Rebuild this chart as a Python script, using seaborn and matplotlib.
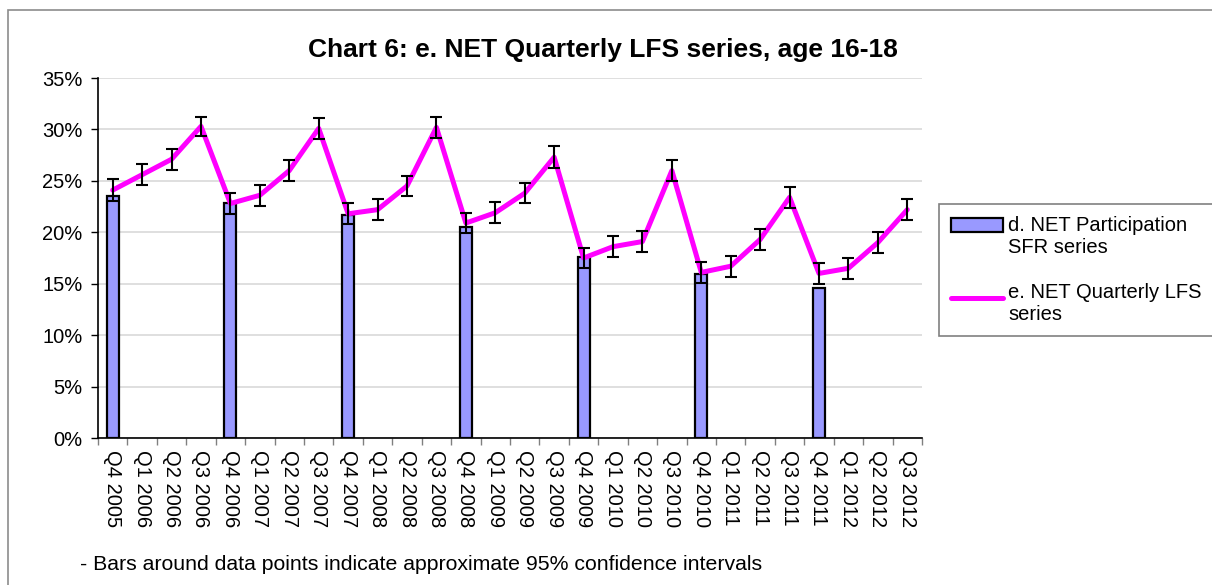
import numpy as np
import pandas as pd
import matplotlib
matplotlib.use("Agg")
import matplotlib.pyplot as plt
import seaborn as sns
from matplotlib.ticker import PercentFormatter
from matplotlib.patches import Rectangle, Patch
from matplotlib.lines import Line2D
from matplotlib.legend_handler import HandlerPatch, HandlerLine2D

# ---------------- data ----------------
quarters = ["Q4 2005", "Q1 2006", "Q2 2006", "Q3 2006", "Q4 2006", "Q1 2007", "Q2 2007",
            "Q3 2007", "Q4 2007", "Q1 2008", "Q2 2008", "Q3 2008", "Q4 2008", "Q1 2009",
            "Q2 2009", "Q3 2009", "Q4 2009", "Q1 2010", "Q2 2010", "Q3 2010", "Q4 2010",
            "Q1 2011", "Q2 2011", "Q3 2011", "Q4 2011", "Q1 2012", "Q2 2012", "Q3 2012"]

sfr_quarters = ["Q4 2005", "Q4 2006", "Q4 2007", "Q4 2008", "Q4 2009", "Q4 2010", "Q4 2011"]
sfr_values = [23.5, 22.8, 21.7, 20.5, 17.6, 15.9, 14.6]

lfs_values = [24.1, 25.6, 27.1, 30.3, 22.8, 23.6, 26.0, 30.1, 21.8, 22.2, 24.5, 30.2,
              20.9, 21.9, 23.8, 27.3, 17.5, 18.6, 19.1, 26.0, 16.1, 16.7, 19.3, 23.4,
              16.0, 16.5, 19.0, 22.2]
lfs_ci_half = [1.1, 1.0, 1.0, 0.95, 1.0, 1.0, 1.0, 1.0, 1.0, 1.0, 1.0, 1.0,
               1.0, 1.0, 1.0, 1.05, 1.0, 1.0, 1.0, 1.0, 1.0, 1.0, 1.0, 1.0,
               1.0, 1.0, 1.0, 1.0]

title = "Chart 6: e. NET Quarterly LFS series, age 16-18"
bar_label = "d. NET Participation\nSFR series"
line_label = "e. NET Quarterly LFS\nseries"
footnote = "- Bars around data points indicate approximate 95% confidence intervals"

# ---------------- style ----------------
sns.set_theme(style="white")
plt.rcParams["font.family"] = ["Liberation Sans", "DejaVu Sans"]
plt.rcParams["text.color"] = "black"
plt.rcParams["xtick.color"] = "black"
plt.rcParams["ytick.color"] = "black"
plt.rcParams["axes.labelcolor"] = "black"

W, H = 1212, 585
fig = plt.figure(figsize=(W / 100, H / 100), dpi=100)
fig.patch.set_facecolor("white")
ax = fig.add_axes([98 / W, 1 - 438 / H, 824 / W, 360 / H])

BAR_COLOR = "#9999FF"
LINE_COLOR = "#FF00FF"

df_bar = pd.DataFrame({"quarter": sfr_quarters, "value": sfr_values})
sns.barplot(data=df_bar, x="quarter", y="value", order=quarters, width=0.41,
            color=BAR_COLOR, saturation=1, edgecolor="black", linewidth=1.6,
            errorbar=None, ax=ax, zorder=2)

pos = np.arange(len(quarters))
df_line = pd.DataFrame({"pos": pos, "value": lfs_values})
sns.lineplot(data=df_line, x="pos", y="value", color=LINE_COLOR, linewidth=3.6,
             ax=ax, zorder=3)
ax.errorbar(pos, lfs_values, yerr=lfs_ci_half, fmt="none", ecolor="black",
            elinewidth=1.5, capsize=4.3, capthick=1.5, zorder=4)

# axes
ax.set_xlim(-0.5, len(quarters) - 0.5)
ax.set_ylim(0, 35)
ax.set_yticks(np.arange(0, 36, 5))
ax.yaxis.set_major_formatter(PercentFormatter(100, decimals=0))
ax.set_xlabel("")
ax.set_ylabel("")

ax.set_xticks(pos)
ax.set_xticklabels(quarters, rotation=-90, fontsize=14.5, ha="center", va="top",
                   color="black")
ax.set_xticks(np.arange(-0.5, len(quarters), 1), minor=True)
ax.tick_params(axis="x", which="major", length=0, pad=9, bottom=True)
ax.tick_params(axis="x", which="minor", length=5, width=1, color="#808080",
               direction="out", bottom=True)
ax.tick_params(axis="y", which="major", length=5, width=1, color="black",
               direction="out", left=True, labelsize=14.5, pad=6, labelcolor="black")

ax.yaxis.grid(True, color="#D9D9D9", linewidth=1.2)
ax.xaxis.grid(False)
ax.set_axisbelow(True)
for s in ["top", "right"]:
    ax.spines[s].set_visible(False)
for s in ["left", "bottom"]:
    ax.spines[s].set_color("black")
    ax.spines[s].set_linewidth(1.2)

# legend (handles aligned with first text line)
LEG_FS = 14.5
SHIFT = 0.6 * LEG_FS


class TopPatch(HandlerPatch):
    def create_artists(self, legend, orig_handle, xdescent, ydescent, width,
                       height, fontsize, trans):
        return super().create_artists(legend, orig_handle, xdescent,
                                      ydescent - SHIFT, width, height,
                                      fontsize, trans)


class TopLine(HandlerLine2D):
    def create_artists(self, legend, orig_handle, xdescent, ydescent, width,
                       height, fontsize, trans):
        return super().create_artists(legend, orig_handle, xdescent,
                                      ydescent - SHIFT, width, height,
                                      fontsize, trans)


bar_handle = Patch(facecolor=BAR_COLOR, edgecolor="black", linewidth=1.6, label=bar_label)
line_handle = Line2D([], [], color=LINE_COLOR, linewidth=3.6, label=line_label)
leg = fig.legend(handles=[bar_handle, line_handle], loc="upper left",
                 bbox_to_anchor=(939 / W, 1 - 204 / H), fontsize=LEG_FS,
                 frameon=True, fancybox=False, edgecolor="#808080", framealpha=1,
                 handlelength=2.6, handletextpad=0.25, labelspacing=1.3,
                 borderpad=0.6, borderaxespad=0,
                 handler_map={Patch: TopPatch(), Line2D: TopLine()})
leg.get_frame().set_linewidth(1.2)
for t in leg.get_texts():
    t.set_color("black")

# title & footnote
fig.text(603 / W, 1 - 50 / H, title, ha="center", va="center",
         fontsize=19, fontweight="bold", color="black")
fig.text(80 / W, 1 - 565 / H, footnote, ha="left", va="center", fontsize=15.3,
         color="black")

# outer border
fig.patches.append(Rectangle((8 / W, -0.05), 1.2, 1 - 10 / H + 0.05,
                             transform=fig.transFigure, fill=False,
                             edgecolor="#8C8C8C", linewidth=1.2))

fig.savefig("out.png", dpi=100)
